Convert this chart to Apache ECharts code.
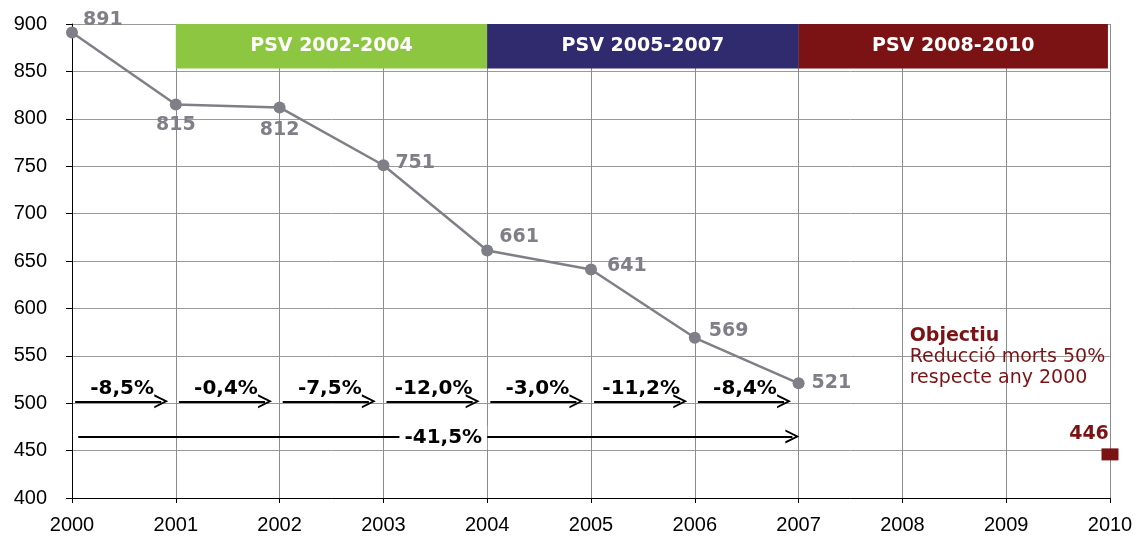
<!DOCTYPE html>
<html>
<head>
<meta charset="utf-8">
<script src="https://cdn.jsdelivr.net/npm/echarts@6/dist/echarts.min.js"></script>
<style>
  html, body { margin: 0; padding: 0; background: #fff; }
  #chart { width: 1141px; height: 538px; }
</style>
</head>
<body>
<div id="chart"></div>
<script>
// dades
const years = [2000, 2001, 2002, 2003, 2004, 2005, 2006, 2007]
const deaths = [891, 815, 812, 751, 661, 641, 569, 521]
const yearChange = ['-8,5%', '-0,4%', '-7,5%', '-12,0%', '-3,0%', '-11,2%', '-8,4%']
const totalChange = '-41,5%'
const psvNames = ['PSV 2002-2004', 'PSV 2005-2007', 'PSV 2008-2010']
const psvFrom = [2001, 2004, 2007]
const psvTo = [2004, 2007, 2009.98]
const psvColors = ['#8DC641', '#302A6E', '#7B1315']
const targetYear = 2010
const targetValue = 446

const chart = echarts.init(document.getElementById('chart'))

const GRAY = '#7f7f87'
const RED = '#7B1315'
const BOLD = 'DejaVu Sans'

// posicio de cada etiqueta de punt
const labelPlace = [
  { position: 'right', offset: [0, -12] },
  { position: 'bottom', offset: [0, 0] },
  { position: 'bottom', offset: [0, 2] },
  { position: 'right', offset: [1, -2] },
  { position: 'right', offset: [1, -14] },
  { position: 'right', offset: [5, -3] },
  { position: 'right', offset: [3, -7] },
  { position: 'right', offset: [2, 0] }
]

const lineData = years.map((y, i) => ({
  value: [y, deaths[i]],
  label: labelPlace[i]
}))

const arrowY = 502
const totalY = 465
const yearArrows = yearChange.map((t, i) => [
  { coord: [years[i] + 0.03, arrowY], name: t },
  { coord: [years[i] + 0.86, arrowY] }
])

const chevron = 'path://M0,12 L10,0 L20,12 L17,12 L10,3.5 L3,12 Z'

chart.setOption({
  animation: false,
  grid: { left: 72, right: 31, top: 24, bottom: 40 },
  xAxis: {
    type: 'value',
    min: 2000,
    max: 2010,
    interval: 1,
    axisLine: { lineStyle: { color: '#000', width: 1 } },
    axisTick: { show: true, length: 5, lineStyle: { color: '#000' } },
    axisLabel: {
      color: '#000',
      fontFamily: 'Liberation Sans',
      fontSize: 20,
      margin: 17,
      formatter: v => String(v)
    },
    splitLine: { show: true, lineStyle: { color: '#8c8c8c', width: 1 } }
  },
  yAxis: {
    type: 'value',
    min: 400,
    max: 900,
    interval: 50,
    axisLine: { show: true, lineStyle: { color: '#000', width: 1 } },
    axisTick: { show: true, length: 6, lineStyle: { color: '#000' } },
    axisLabel: {
      color: '#000',
      fontFamily: 'Liberation Sans',
      fontSize: 20,
      margin: 25
    },
    splitLine: { show: true, lineStyle: { color: '#9a9a9a', width: 1 } }
  },
  series: [
    {
      type: 'line',
      data: lineData,
      symbol: 'circle',
      symbolSize: 12,
      clip: false,
      z: 5,
      lineStyle: { color: GRAY, width: 2.5 },
      itemStyle: { color: GRAY },
      label: {
        show: true,
        formatter: p => p.value[1],
        color: GRAY,
        fontFamily: BOLD,
        fontWeight: 'bold',
        fontSize: 19
      },
      markArea: {
        silent: true,
        z: 1,
        itemStyle: { opacity: 1 },
        label: {
          show: true,
          position: 'inside',
          color: '#fff',
          fontFamily: BOLD,
          fontWeight: 'bold',
          fontSize: 19
        },
        data: psvNames.map((n, i) => [
          { name: n, coord: [psvFrom[i], 900], itemStyle: { color: psvColors[i] } },
          { coord: [psvTo[i], 853] }
        ])
      },
      markLine: {
        silent: true,
        symbol: ['none', chevron],
        symbolSize: 14,
        lineStyle: { color: '#000', width: 2, type: 'solid' },
        label: {
          show: true,
          position: 'insideMiddleTop',
          distance: 3,
          offset: [4, 0],
          formatter: '{b}',
          color: '#000',
          fontFamily: BOLD,
          fontWeight: 'bold',
          fontSize: 20
        },
        data: yearArrows.concat([[
          {
            coord: [2000.06, totalY],
            name: totalChange,
            label: {
              position: 'middle',
              backgroundColor: '#fff',
              padding: [2, 5],
              distance: 0,
              offset: [8, 13]
            }
          },
          { coord: [2006.94, totalY] }
        ]])
      }
    },
    {
      type: 'scatter',
      data: [[targetYear, targetValue]],
      symbol: 'rect',
      symbolSize: [17, 12],
      clip: false,
      z: 6,
      itemStyle: { color: RED, opacity: 1 },
      label: {
        show: true,
        position: 'top',
        offset: [-21, 0],
        formatter: String(targetValue),
        color: RED,
        fontFamily: BOLD,
        fontWeight: 'bold',
        fontSize: 19
      }
    },
    {
      type: 'scatter',
      data: [[2008.07, 549]],
      symbolSize: 0,
      silent: true,
      itemStyle: { opacity: 1 },
      label: {
        show: true,
        position: 'right',
        distance: 0,
        align: 'left',
        formatter: '{b|Objectiu}\n{n|Reducció morts 50%}\n{n|respecte any ' + years[0] + '}',
        rich: {
          b: { color: RED, fontFamily: BOLD, fontWeight: 'bold', fontSize: 19, lineHeight: 21 },
          n: { color: RED, fontFamily: BOLD, fontSize: 19, lineHeight: 21 }
        }
      }
    }
  ]
})
</script>
</body>
</html>
